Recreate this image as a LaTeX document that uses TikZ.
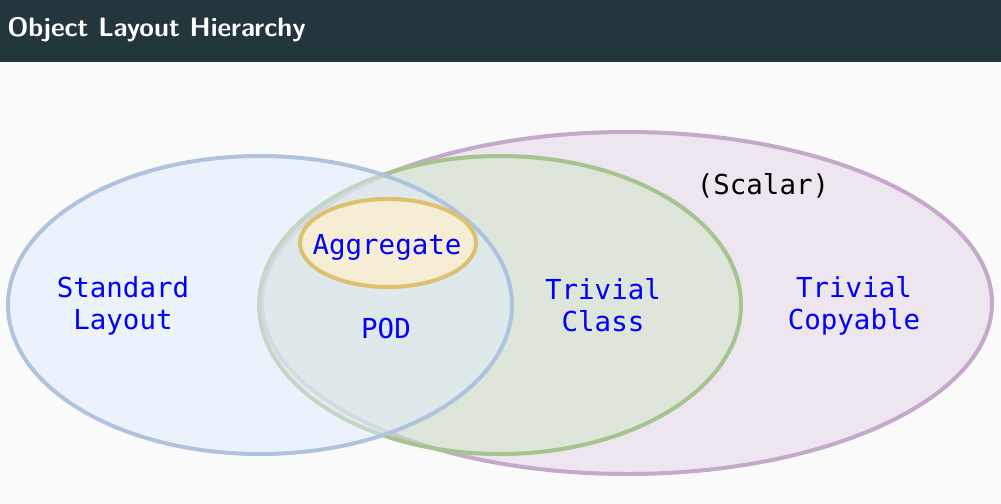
\documentclass[tikz,border=0pt]{standalone}
\usepackage{fontspec}
\setmonofont{DejaVu Sans Mono}
\begin{document}
\begin{tikzpicture}[x=0.75pt,y=-0.75pt]
\definecolor{bgc}{HTML}{FAFAFA}
\definecolor{barc}{HTML}{22363B}
\definecolor{pfill}{HTML}{E2D2E6}
\definecolor{pline}{HTML}{C5A9CB}
\definecolor{gfill}{HTML}{D0E6C8}
\definecolor{gline}{HTML}{A5C48E}
\definecolor{bfill}{HTML}{E0ECFC}
\definecolor{bline}{HTML}{AFC3DE}
\definecolor{yfill}{HTML}{F5EED5}
\definecolor{yline}{HTML}{DEC16F}
\definecolor{lblc}{HTML}{0000FF}
\tikzset{
  setc/.style={line width=3pt, fill opacity=0.5},
  lbl/.style={font=\ttfamily\fontsize{20.6}{24}\selectfont, text=lblc, align=center, inner sep=0pt},
}
\useasboundingbox (0,0) rectangle (1001,504);
\fill[bgc] (0,0) rectangle (1001,504);
\fill[barc] (0,0) rectangle (1001,62);
\node[anchor=west, text=white, font=\sffamily\bfseries\fontsize{20}{24}\selectfont, inner sep=0pt] (title) at (7,30) {Object Layout Hierarchy};
\path[setc, draw=pline, fill=pfill] (627,303) ellipse [x radius=365, y radius=171];
\path[setc, draw=gline, fill=gfill] (500,305) ellipse [x radius=241, y radius=149];
\path[setc, draw=bline, fill=bfill] (260,305) ellipse [x radius=252, y radius=149];
\path[line width=3pt, draw=yline, fill=yfill] (388,243) ellipse [x radius=88, y radius=44];
\node[lbl] (std) at (123,306) {Standard\\Layout};
\node[lbl] (agg) at (387,247) {Aggregate};
\node[lbl] (pod) at (386,328) {POD};
\node[lbl] (tc) at (603,305) {Trivial\\Class};
\node[lbl] (tcp) at (854,306) {Trivial\\Copyable};
\node[lbl, text=black] (sc) at (763,186) {(Scalar)};
\end{tikzpicture}
\end{document}
